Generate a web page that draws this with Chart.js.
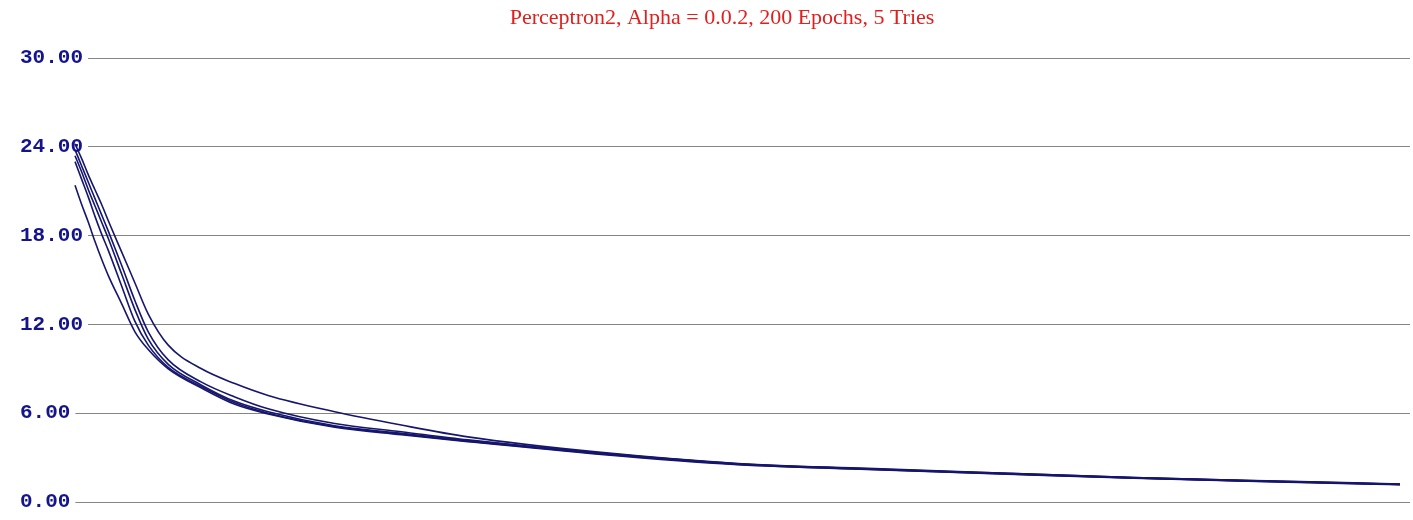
<!DOCTYPE html>
<html>
<head>
<meta charset="utf-8">
<script src="https://cdn.jsdelivr.net/npm/chart.js@4/dist/chart.umd.min.js"></script>
<style>
  html, body { margin: 0; padding: 0; background: #fff; }
</style>
</head>
<body>
<canvas id="loss-chart" width="1413" height="520"></canvas>
<script>
const titleText = 'Perceptron2, Alpha = 0.0.2, 200 Epochs, 5 Tries'
const yTicks = [0, 6, 12, 18, 24, 30]
const epochs = [1, 2, 3, 4, 5, 6, 8, 10, 12, 15, 20, 25, 30, 40, 50, 60, 80, 100, 120, 140, 160, 180, 200]

// error per epoch, one array per try
const try1 = [24.2, 23.2, 22.1, 21.1, 20.1, 19.0, 16.9, 14.8, 12.7, 10.6, 9.0, 8.0, 7.2, 6.1, 5.2, 4.4, 3.35, 2.62, 2.27, 1.96, 1.66, 1.43, 1.22]
const try2 = [23.8, 22.7, 21.6, 20.5, 19.4, 18.3, 16.0, 13.6, 11.5, 9.6, 8.1, 7.1, 6.3, 5.3, 4.75, 4.2, 3.3, 2.6, 2.25, 1.95, 1.65, 1.42, 1.2]
const try3 = [23.4, 22.3, 21.1, 20.0, 18.9, 17.8, 15.4, 13.0, 11.0, 9.3, 7.9, 6.8, 6.1, 5.15, 4.65, 4.15, 3.28, 2.58, 2.23, 1.93, 1.63, 1.4, 1.19]
const try4 = [23.0, 21.8, 20.6, 19.3, 18.1, 17.0, 14.6, 12.2, 10.6, 9.1, 7.8, 6.7, 6.0, 5.1, 4.6, 4.1, 3.25, 2.56, 2.21, 1.91, 1.62, 1.39, 1.18]
const try5 = [21.4, 20.1, 18.9, 17.6, 16.4, 15.3, 13.4, 11.5, 10.3, 9.0, 7.7, 6.6, 5.95, 5.05, 4.55, 4.08, 3.22, 2.54, 2.2, 1.9, 1.6, 1.38, 1.17]

const tries = [try1, try2, try3, try4, try5]
const lineColor = '#16166e'

const datasets = tries.map((vals, n) => ({
  label: 'Try ' + (n + 1),
  data: vals.map((v, i) => ({ x: epochs[i], y: v })),
  borderColor: lineColor,
  borderWidth: 1.6,
  pointRadius: 0,
  fill: false,
  cubicInterpolationMode: 'monotone'
}))

const ctx = document.getElementById('loss-chart').getContext('2d')
new Chart(ctx, {
  type: 'line',
  data: { datasets },
  options: {
    responsive: false,
    animation: false,
    devicePixelRatio: 1,
    layout: { padding: { left: 34, right: 3, bottom: 18, top: 0 } },
    plugins: {
      legend: { display: false },
      tooltip: { enabled: false },
      title: {
        display: true,
        text: titleText,
        color: '#e0201e',
        font: { family: 'Liberation Serif', size: 22, weight: 'normal' },
        padding: { top: 5, bottom: 26.6 }
      }
    },
    scales: {
      // epoch range padded on the left so the tick labels sit inside the plot
      x: { type: 'linear', min: -5.16, max: 201.5, display: false },
      y: {
        min: 0,
        max: 30,
        afterBuildTicks: s => { s.ticks = yTicks.map(v => ({ value: v })) },
        afterFit: s => { s.width = 0 },
        border: { display: false },
        grid: { color: '#858585', lineWidth: 1, drawTicks: false },
        ticks: {
          mirror: true,
          padding: -14,
          color: '#14148c',
          font: { family: 'Liberation Mono', weight: 'bold', size: 21 },
          showLabelBackdrop: true,
          backdropColor: '#fff',
          backdropPadding: { top: 0, bottom: 0, left: 0, right: 5 },
          callback: v => v.toFixed(2)
        }
      }
    }
  }
})
</script>
</body>
</html>
